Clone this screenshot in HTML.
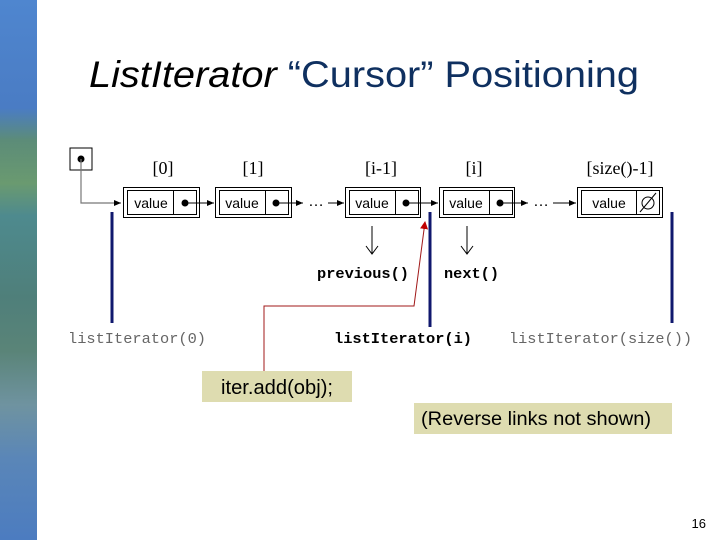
<!DOCTYPE html>
<html><head><meta charset="utf-8"><style>
html,body{margin:0;padding:0;background:#fff;}
svg{display:block;}
</style></head><body>
<svg width="720" height="540" viewBox="0 0 720 540" xmlns="http://www.w3.org/2000/svg">
<defs>
<linearGradient id="strip" x1="0" y1="0" x2="0" y2="1">
<stop offset="0" stop-color="#4f86cf"/>
<stop offset="0.2" stop-color="#4a7cc4"/>
<stop offset="0.26" stop-color="#5c8c78"/>
<stop offset="0.34" stop-color="#6a9a70"/>
<stop offset="0.4" stop-color="#4e8a8e"/>
<stop offset="0.55" stop-color="#4f7f7a"/>
<stop offset="0.65" stop-color="#5a8478"/>
<stop offset="0.75" stop-color="#6f93a0"/>
<stop offset="0.85" stop-color="#5a86b8"/>
<stop offset="1" stop-color="#4c7cc0"/>
</linearGradient>
<marker id="ah" markerWidth="8" markerHeight="8" refX="7" refY="4" orient="auto" markerUnits="userSpaceOnUse"><path d="M0,1 L7,4 L0,7 z" fill="#000"/></marker>
<marker id="rh" markerWidth="8" markerHeight="10" refX="7" refY="4" orient="auto" markerUnits="userSpaceOnUse"><path d="M0,0 L8,4 L0,8 z" fill="#c00000"/></marker>
</defs>
<rect x="0" y="0" width="37" height="540" fill="url(#strip)"/>
<text x="89" y="87" font-family="Liberation Sans, sans-serif" font-size="37" textLength="550" lengthAdjust="spacingAndGlyphs"><tspan font-style="italic" fill="#000">ListIterator</tspan><tspan fill="#0f3060"> “Cursor” Positioning</tspan></text>

<!-- head -->
<rect x="70" y="148" width="22" height="22" fill="#fff" stroke="#000"/>
<circle cx="81" cy="159" r="3.5" fill="#000"/>
<polyline points="81,159 81,203 121,203" fill="none" stroke="#777" stroke-width="1.2" marker-end="url(#ah)"/>

<g font-family="Liberation Serif, serif" font-size="18" fill="#000" text-anchor="middle">
<text x="163" y="174">[0]</text>
<text x="253" y="174">[1]</text>
<text x="381" y="174">[i-1]</text>
<text x="474" y="174">[i]</text>
<text x="620" y="174">[size()-1]</text>
</g>

<g stroke="#000" fill="#fff" stroke-width="1">
<rect x="123.5" y="187.5" width="76" height="30"/>
<rect x="127.5" y="190.5" width="46" height="24"/><rect x="173.5" y="190.5" width="23" height="24"/>
<rect x="215.5" y="187.5" width="76" height="30"/>
<rect x="219.5" y="190.5" width="46" height="24"/><rect x="265.5" y="190.5" width="23" height="24"/>
<rect x="345.5" y="187.5" width="75" height="30"/>
<rect x="349.5" y="190.5" width="46" height="24"/><rect x="395.5" y="190.5" width="23" height="24"/>
<rect x="439.5" y="187.5" width="75" height="30"/>
<rect x="443.5" y="190.5" width="46" height="24"/><rect x="489.5" y="190.5" width="23" height="24"/>
<rect x="577.5" y="187.5" width="85" height="30"/>
<rect x="581.5" y="190.5" width="55" height="24"/><rect x="636.5" y="190.5" width="23" height="24"/>
</g>
<g font-family="Liberation Sans, sans-serif" font-size="14" fill="#000" text-anchor="middle">
<text x="151" y="208">value</text>
<text x="242" y="208">value</text>
<text x="372" y="208">value</text>
<text x="466" y="208">value</text>
<text x="609" y="208">value</text>
</g>
<circle cx="648" cy="203" r="6" fill="none" stroke="#000"/>
<line x1="640" y1="212" x2="656" y2="193" stroke="#000"/>

<g stroke="#000" stroke-width="1" fill="none">
<line x1="185" y1="203" x2="214" y2="203" marker-end="url(#ah)"/>
<line x1="276" y1="203" x2="303" y2="203" marker-end="url(#ah)"/>
<line x1="328" y1="203" x2="344" y2="203" marker-end="url(#ah)"/>
<line x1="406" y1="203" x2="438" y2="203" marker-end="url(#ah)"/>
<line x1="500" y1="203" x2="528" y2="203" marker-end="url(#ah)"/>
<line x1="553" y1="203" x2="576" y2="203" marker-end="url(#ah)"/>
</g>
<g fill="#000">
<circle cx="185" cy="203" r="3.5"/><circle cx="276" cy="203" r="3.5"/><circle cx="406" cy="203" r="3.5"/><circle cx="500" cy="203" r="3.5"/>
</g>
<g font-family="Liberation Sans, sans-serif" font-size="16" fill="#000">
<text x="308" y="206">…</text><text x="533" y="206">…</text>
</g>

<g stroke="#000" stroke-width="1" fill="none">
<line x1="372" y1="226" x2="372" y2="254"/><polyline points="366,246 372,254 378,246"/>
<line x1="467" y1="226" x2="467" y2="254"/><polyline points="461,246 467,254 473,246"/>
</g>

<g stroke="#10186e" stroke-width="3">
<line x1="112" y1="212" x2="112" y2="323"/>
<line x1="430" y1="212" x2="430" y2="327"/>
<line x1="672" y1="212" x2="672" y2="323"/>
</g>

<g font-family="Liberation Mono, monospace" font-size="15.2">
<text x="317" y="278" font-weight="bold" textLength="92" lengthAdjust="spacingAndGlyphs">previous()</text>
<text x="444" y="278" font-weight="bold" textLength="55" lengthAdjust="spacingAndGlyphs">next()</text>
<text x="68" y="343" fill="#666" textLength="138" lengthAdjust="spacingAndGlyphs">listIterator(0)</text>
<text x="334" y="343" font-weight="bold" textLength="138" lengthAdjust="spacingAndGlyphs">listIterator(i)</text>
<text x="509" y="343" fill="#666" textLength="183" lengthAdjust="spacingAndGlyphs">listIterator(size())</text>
</g>

<polyline points="264,372 264,306 414,306 425,222" fill="none" stroke="#a01818" stroke-width="1" marker-end="url(#rh)"/>

<rect x="202" y="371" width="150" height="31" fill="#dedcb0"/>
<text x="221" y="394" font-family="Liberation Sans, sans-serif" font-size="20" fill="#000" textLength="112" lengthAdjust="spacingAndGlyphs">iter.add(obj);</text>
<rect x="414" y="403" width="258" height="31" fill="#dedcb0"/>
<text x="421" y="425" font-family="Liberation Sans, sans-serif" font-size="19" fill="#000" textLength="230" lengthAdjust="spacingAndGlyphs">(Reverse links not shown)</text>

<text x="706" y="528" font-family="Liberation Sans, sans-serif" font-size="13" fill="#000" text-anchor="end">16</text>
</svg>
</body></html>
